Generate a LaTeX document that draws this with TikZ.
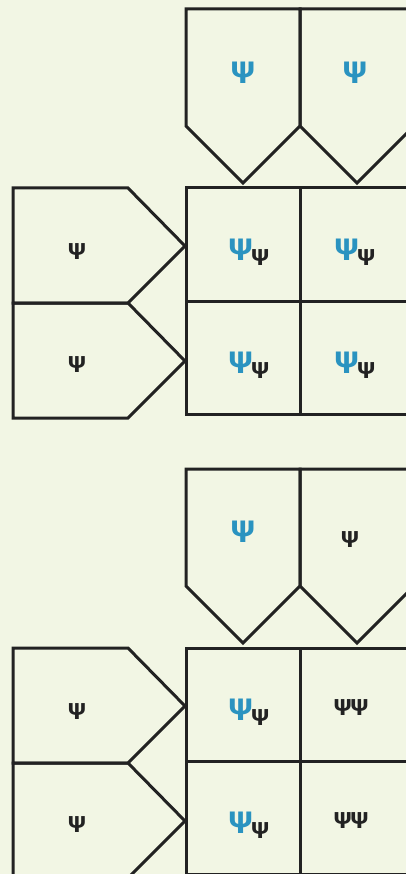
\documentclass[tikz,border=0pt]{standalone}
\usepackage{fontspec}
\setmainfont{Fira Sans}
\definecolor{bgc}{HTML}{F2F6E4}
\definecolor{psiblue}{HTML}{2A93C0}
\definecolor{linec}{HTML}{222222}
\begin{document}
\begin{tikzpicture}[x=1pt,y=-1pt,
  shapeline/.style={draw=linec,line width=3pt,line join=miter},
  bigpsi/.style={text=psiblue,font=\bfseries\fontsize{31}{31}\selectfont,inner sep=0pt},
  smallpsi/.style={text=linec,font=\bfseries\fontsize{23}{23}\selectfont,inner sep=0pt},
  combo/.style={inner sep=0pt,font=\bfseries}]
\useasboundingbox (0,0) rectangle (406,874);
\fill[bgc] (0,0) rectangle (406,874);
\clip (0,0) rectangle (406,874);
\newcommand{\combotext}{{\color{psiblue}\fontsize{31}{31}\selectfont Ψ}\raisebox{-5pt}{\color{linec}\fontsize{23}{23}\selectfont Ψ}}
\foreach \dy/\sec in {0/a,460/b}{
  \begin{scope}[yshift=-\dy pt]
    % top pentagons
    \draw[shapeline] (186,9) -- (300,9) -- (300,126) -- (243,183) -- (186,126) -- cycle;
    \draw[shapeline] (300,9) -- (414,9) -- (414,126) -- (357,183) -- (300,126) -- cycle;
    % left pentagons
    \draw[shapeline] (13,188) -- (128,188) -- (185,246) -- (128,303) -- (13,303) -- cycle;
    \draw[shapeline] (13,303) -- (128,303) -- (185,361) -- (128,418) -- (13,418) -- cycle;
    % grid cells
    \draw[shapeline] (186,188) -- (300,188) -- (300,301) -- (186,301) -- cycle;
    \draw[shapeline] (300,188) -- (414,188) -- (414,301) -- (300,301) -- cycle;
    \draw[shapeline] (186,301) -- (300,301) -- (300,414) -- (186,414) -- cycle;
    \draw[shapeline] (300,301) -- (414,301) -- (414,414) -- (300,414) -- cycle;
    % left labels
    \node[smallpsi] (\sec l1) at (77,252) {Ψ};
    \node[smallpsi] (\sec l2) at (77,365) {Ψ};
    % grid left column
    \node[combo] (\sec g11) at (249,252) {\combotext};
    \node[combo] (\sec g21) at (249,365) {\combotext};
  \end{scope}
}
% section a top labels
\node[bigpsi] (at1) at (243,73) {Ψ};
\node[bigpsi] (at2) at (355,73) {Ψ};
\node[combo] (ag12) at (355,252) {\combotext};
\node[combo] (ag22) at (355,365) {\combotext};
% section b
\node[bigpsi] (bt1) at (243,532) {Ψ};
\node[smallpsi] (bt2) at (350,540) {Ψ};
\node[smallpsi] (bg12) at (351,708) {ΨΨ};
\node[smallpsi] (bg22) at (351,821) {ΨΨ};
\end{tikzpicture}
\end{document}
